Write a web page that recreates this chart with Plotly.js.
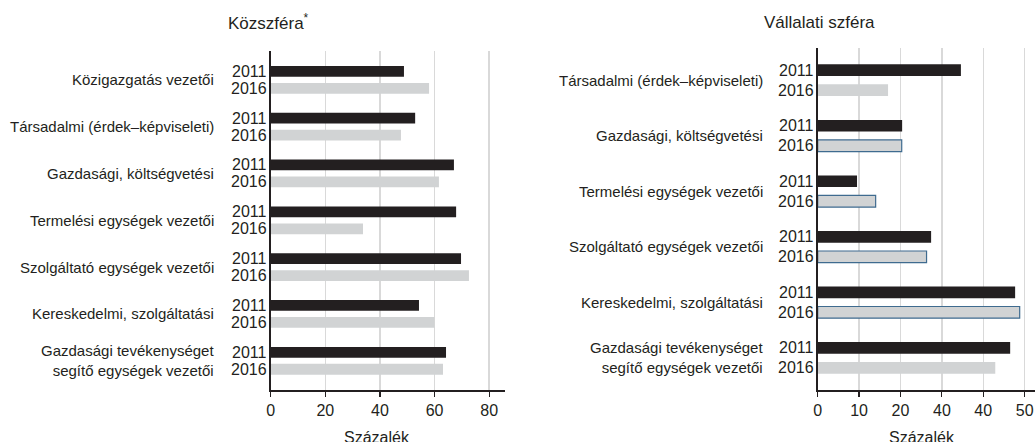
<!DOCTYPE html>
<html>
<head>
<meta charset="utf-8">
<script src="https://cdn.plot.ly/plotly-3.0.1.min.js"></script>
<style>
html,body{margin:0;padding:0;background:#fff;}
#chart{width:1035px;height:442px;}
</style>
</head>
<body>
<div id="chart"></div>
<script>
// ---- Data ----
const years = ['2011', '2016'];

const leftTitle = 'Közszféra<sup>*</sup>';
const leftCategories = [
  'Közigazgatás vezetői',
  'Társadalmi (érdek–képviseleti)',
  'Gazdasági, költségvetési',
  'Termelési egységek vezetői',
  'Szolgáltató egységek vezetői',
  'Kereskedelmi, szolgáltatási',
  'Gazdasági tevékenységet<br>segítő egységek vezetői'
];
const left2011 = [48.8, 52.9, 67.1, 67.9, 69.7, 54.3, 64.2];
const left2016 = [58.0, 47.7, 61.6, 33.8, 72.6, 60.0, 63.1];
const leftTickVals = [0, 20, 40, 60, 80];
const leftTickText = ['0', '20', '40', '60', '80'];

const rightTitle = 'Vállalati szféra';
const rightCategories = [
  'Társadalmi (érdek–képviseleti)',
  'Gazdasági, költségvetési',
  'Termelési egységek vezetői',
  'Szolgáltató egységek vezetői',
  'Kereskedelmi, szolgáltatási',
  'Gazdasági tevékenységet<br>segítő egységek vezetői'
];
const right2011 = [34.6, 20.4, 9.5, 27.4, 47.7, 46.5];
const right2016 = [17.0, 20.3, 14.0, 26.3, 48.8, 42.9];
const right2016Outlined = [false, true, true, true, true, false];
const rightTickVals = [0, 10, 20, 30, 40, 50];
const rightTickText = ['0', '10', '20', '40', '40', '50'];

const xAxisTitle = 'Százalék';

// ---- Style ----
const FONT = '"Liberation Sans", Arial, sans-serif';
const TXT = '#231f20';
const DARK = '#231f20';
const GRAY = '#d1d3d4';
const OUTLINE = '#3f6b8f';
const FS_CAT = 15;
const FS_YEAR = 16;
const FS_TICK = 16;
const FS_TITLE = 17;

const W = 1035, H = 442;
const px = v => v / W;
const py = v => (H - v) / H;

function idx(arr) { return arr.map((_, i) => i); }

const lIdx = idx(leftCategories);
const rIdx = idx(rightCategories);

const traces = [
  {type: 'bar', orientation: 'h', x: left2011, y: lIdx, xaxis: 'x', yaxis: 'y',
   width: 0.23, offset: -0.181 - 0.115, marker: {color: DARK}, hoverinfo: 'x', name: years[0]},
  {type: 'bar', orientation: 'h', x: left2016, y: lIdx, xaxis: 'x', yaxis: 'y',
   width: 0.23, offset: 0.181 - 0.115, marker: {color: GRAY}, hoverinfo: 'x', name: years[1]},
  {type: 'bar', orientation: 'h', x: right2011, y: rIdx, xaxis: 'x2', yaxis: 'y2',
   width: 0.21, offset: -0.18 - 0.105, marker: {color: DARK}, hoverinfo: 'x', name: years[0]},
  {type: 'bar', orientation: 'h', x: right2016, y: rIdx, xaxis: 'x2', yaxis: 'y2',
   width: 0.21, offset: 0.18 - 0.105,
   marker: {color: GRAY,
            line: {color: right2016Outlined.map(o => o ? OUTLINE : GRAY),
                   width: right2016Outlined.map(o => o ? 1.2 : 0)}},
   hoverinfo: 'x', name: years[1]}
];

const xCommon = {
  showgrid: true, gridcolor: '#d9d9d9', gridwidth: 1.5,
  zeroline: false, showline: true, linecolor: DARK, linewidth: 1.5,
  ticks: 'outside', ticklen: 5, tickwidth: 1.2, tickcolor: DARK,
  tickfont: {family: FONT, size: FS_TICK, color: TXT}, tickmode: 'array',
  fixedrange: true
};
const yCommon = {
  showgrid: false, zeroline: false, showline: true, linecolor: DARK, linewidth: 1.5,
  showticklabels: false, ticks: '', fixedrange: true
};

const annotations = [];
function addLabels(cats, xLabelPx, yref, xref, shift) {
  cats.forEach((c, i) => {
    annotations.push({text: c, xref: 'paper', x: px(xLabelPx), xanchor: 'right',
      yref: yref, y: i, yanchor: 'middle', showarrow: false, align: 'right',
      font: {family: FONT, size: FS_CAT, color: TXT}});
    years.forEach((yr, j) => {
      annotations.push({text: yr, xref: xref, x: 0, xanchor: 'right', xshift: -2,
        yref: yref, y: i, yanchor: 'middle', yshift: j === 0 ? shift : -shift,
        showarrow: false, font: {family: FONT, size: FS_YEAR, color: TXT}});
    });
  });
}
addLabels(leftCategories, 216, 'y', 'x', 8.5);
addLabels(rightCategories, 765, 'y2', 'x2', 10);

annotations.push({text: leftTitle, xref: 'paper', x: px(268), xanchor: 'center',
  yref: 'paper', y: py(22), yanchor: 'middle', showarrow: false,
  font: {family: FONT, size: FS_TITLE, color: TXT}});
annotations.push({text: rightTitle, xref: 'paper', x: px(819), xanchor: 'center',
  yref: 'paper', y: py(22), yanchor: 'middle', showarrow: false,
  font: {family: FONT, size: FS_TITLE, color: TXT}});
annotations.push({text: xAxisTitle, xref: 'paper', x: px(377), xanchor: 'center',
  yref: 'paper', y: py(427), yanchor: 'top', showarrow: false,
  font: {family: FONT, size: FS_TICK, color: TXT}});
annotations.push({text: xAxisTitle, xref: 'paper', x: px(922), xanchor: 'center',
  yref: 'paper', y: py(427), yanchor: 'top', showarrow: false,
  font: {family: FONT, size: FS_TICK, color: TXT}});

const layout = {
  width: W, height: H,
  margin: {l: 0, r: 0, t: 0, b: 0},
  paper_bgcolor: '#fff', plot_bgcolor: '#fff',
  showlegend: false,
  barmode: 'overlay',
  font: {family: FONT, size: FS_TICK, color: TXT},
  xaxis: Object.assign({}, xCommon, {domain: [px(270.7), px(505)], range: [0, 85.8],
    tickvals: leftTickVals, ticktext: leftTickText, anchor: 'y'}),
  yaxis: Object.assign({}, yCommon, {domain: [py(390), py(51)], range: [6.624, -0.615],
    anchor: 'x'}),
  xaxis2: Object.assign({}, xCommon, {domain: [px(817.7), 1], range: [0, 52.5],
    tickvals: rightTickVals, ticktext: rightTickText, anchor: 'y2'}),
  yaxis2: Object.assign({}, yCommon, {domain: [py(390), py(47.7)], range: [5.578, -0.585],
    anchor: 'x2'}),
  annotations: annotations
};

Plotly.newPlot('chart', traces, layout, {displayModeBar: false, staticPlot: true});
</script>
</body>
</html>
